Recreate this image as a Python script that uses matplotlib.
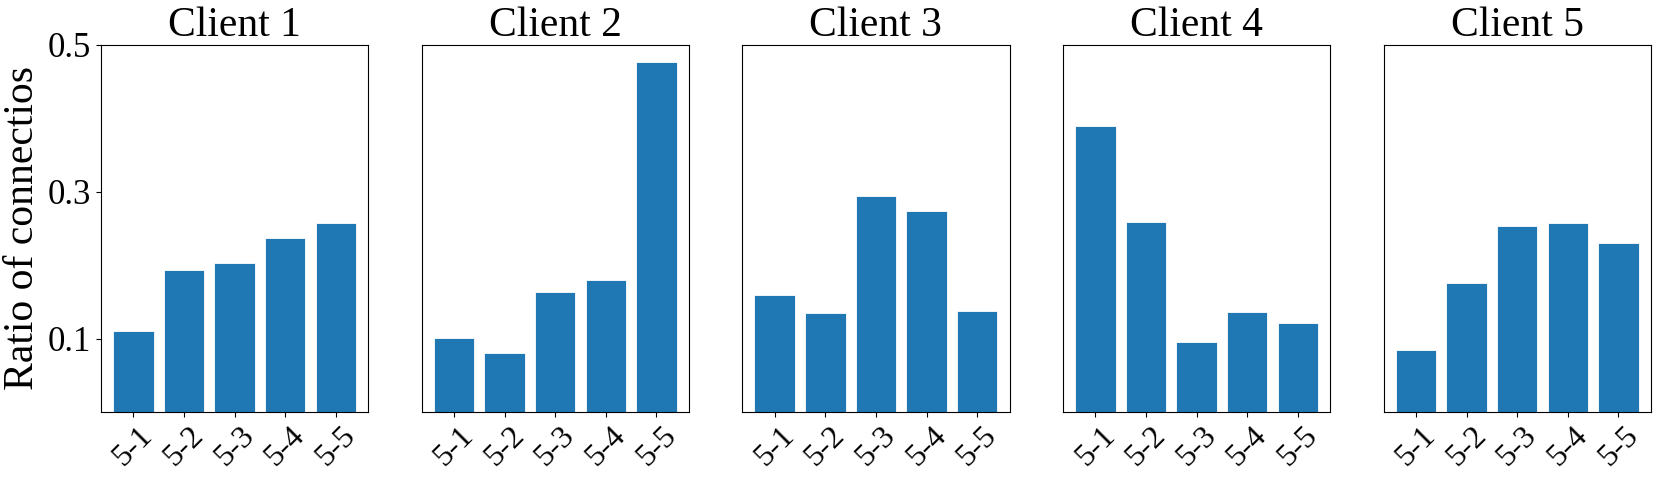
import matplotlib
matplotlib.use('Agg')
import matplotlib.pyplot as plt
import numpy as np

plt.rcParams['font.family'] = ['Liberation Serif', 'DejaVu Serif']

clients = ['Client 1', 'Client 2', 'Client 3', 'Client 4', 'Client 5']
labels = ['5-1', '5-2', '5-3', '5-4', '5-5']

client1 = [0.110, 0.194, 0.203, 0.237, 0.258]
client2 = [0.101, 0.080, 0.163, 0.180, 0.477]
client3 = [0.160, 0.135, 0.294, 0.274, 0.138]
client4 = [0.389, 0.259, 0.096, 0.136, 0.121]
client5 = [0.085, 0.176, 0.253, 0.258, 0.230]
ratios = [client1, client2, client3, client4, client5]

fig, axes = plt.subplots(1, 5, figsize=(16.6, 4.83), dpi=100, sharey=True)
plt.subplots_adjust(left=0.0608, right=0.9945, bottom=0.147, top=0.907, wspace=0.2)

for i, ax in enumerate(axes):
    x = np.arange(len(labels))
    ax.bar(x, ratios[i], width=0.8, color='#1f77b4', edgecolor='white', linewidth=0.6)
    ax.set_title(clients[i], fontsize=30, pad=4)
    ax.set_xticks(x)
    ax.set_xticklabels(labels, rotation=45, fontsize=23)
    ax.set_ylim(0, 0.5)
    ax.set_yticks([0.1, 0.3, 0.5])
    ax.tick_params(axis='y', labelsize=25)
    if i > 0:
        ax.tick_params(axis='y', left=False)

axes[0].set_ylabel('Ratio of connectios', fontsize=30)

plt.savefig('out.png')
